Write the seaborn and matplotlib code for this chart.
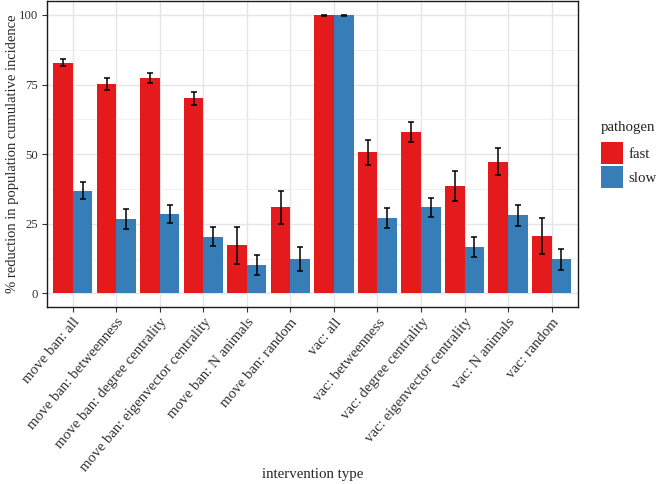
import matplotlib
matplotlib.use("Agg")
import matplotlib.pyplot as plt
import seaborn as sns
import pandas as pd
from matplotlib.patches import Patch

interventions = [
    "move ban: all", "move ban: betweenness", "move ban: degree centrality",
    "move ban: eigenvector centrality", "move ban: N animals", "move ban: random",
    "vac: all", "vac: betweenness", "vac: degree centrality",
    "vac: eigenvector centrality", "vac: N animals", "vac: random",
]
fast_mean = [82.8, 75.3, 77.4, 70.0, 17.3, 30.9, 99.9, 50.6, 57.9, 38.7, 47.3, 20.6]
fast_err = [1.2, 2.1, 1.7, 2.3, 6.7, 5.8, 0.2, 4.5, 3.7, 5.4, 4.9, 6.6]
slow_mean = [36.9, 26.8, 28.5, 20.4, 10.1, 12.3, 99.9, 27.0, 30.9, 16.7, 28.0, 12.3]
slow_err = [3.0, 3.5, 3.2, 3.4, 3.6, 4.2, 0.2, 3.5, 3.4, 3.5, 3.9, 3.8]
pathogens = ["fast", "slow"]
colors = {"fast": "#E41A1C", "slow": "#377EB8"}

df = pd.DataFrame({
    "intervention": interventions * 2,
    "pathogen": ["fast"] * len(interventions) + ["slow"] * len(interventions),
    "value": fast_mean + slow_mean,
    "err": fast_err + slow_err,
})

sns.set_style("whitegrid")
plt.rcParams["font.family"] = ["Liberation Serif", "DejaVu Serif"]

fig = plt.figure(figsize=(6.56, 4.84), dpi=100)
ax = fig.add_axes([0.0712, 0.365, 0.8094, 0.633])

sns.barplot(data=df, x="intervention", y="value", hue="pathogen",
            hue_order=pathogens, palette=colors, errorbar=None,
            width=0.9, saturation=1, linewidth=0, ax=ax, legend=False)

# error bars at the bar centres
for cont, p in zip(ax.containers, pathogens):
    sub = df[df["pathogen"] == p]
    xs = [b.get_x() + b.get_width() / 2 for b in cont]
    ax.errorbar(xs, sub["value"], yerr=sub["err"], fmt="none",
                ecolor="black", elinewidth=1.1, capsize=2.2, capthick=1.1, zorder=5)

ax.set_xlim(-0.6, len(interventions) - 0.4)
ax.set_ylim(-5, 105)
ax.set_yticks([0, 25, 50, 75, 100])
ax.set_yticks([12.5, 37.5, 62.5, 87.5], minor=True)
ax.grid(True, which="major", color="#E5E5E5", linewidth=1.0)
ax.grid(True, which="minor", axis="y", color="#EFEFEF", linewidth=0.6)
ax.set_axisbelow(True)
for s in ax.spines.values():
    s.set_color("#1A1A1A")
    s.set_linewidth(1.0)

ax.tick_params(axis="both", which="major", length=3.6, width=0.8, color="#333333",
               labelcolor="#333333", pad=2.5, bottom=True, left=True)
ax.tick_params(axis="y", labelsize=9.2)
ax.tick_params(axis="x", labelsize=10.7)
ax.tick_params(axis="both", which="minor", length=0)
ax.set_xticks(range(len(interventions)))
ax.set_xticklabels(interventions, rotation=50, ha="right", va="top",
                   rotation_mode="anchor")

ax.set_xlabel("intervention type", fontsize=10.7)
ax.set_ylabel("% reduction in population cumulative incidence", fontsize=10.5, labelpad=0)
ax.xaxis.set_label_coords(0.5, -0.525)

fig.text(600.7 / 656, 1 - 131 / 484, "pathogen", fontsize=10.7, ha="left", va="baseline")
handles = [Patch(facecolor=colors[p], edgecolor="none", label=p) for p in pathogens]
fig.legend(handles=handles, loc="upper left",
           bbox_to_anchor=(600.7 / 656, 1 - 142 / 484), frameon=False, fontsize=10.7,
           handlelength=1.48, handleheight=1.85, labelspacing=0.2,
           handletextpad=0.38, borderaxespad=0, borderpad=0)

fig.savefig("out.png", dpi=100)
